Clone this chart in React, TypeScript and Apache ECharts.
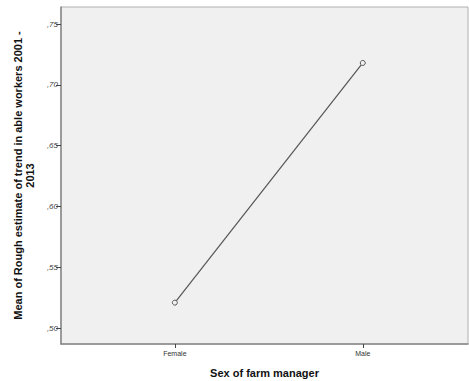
import React, { useEffect, useRef } from "react";
import * as echarts from "echarts";

const categories = ["Female", "Male"];
const means = [0.521, 0.718];
const yTicks = [0.5, 0.55, 0.6, 0.65, 0.7, 0.75];

export default function App() {
  const ref = useRef<HTMLDivElement>(null);
  useEffect(() => {
    if (!ref.current) return;
    const chart = echarts.init(ref.current, null, { renderer: "svg" });
    const font = "Liberation Sans, Arial, sans-serif";
    chart.setOption({
      animation: false,
      textStyle: { fontFamily: font },
      grid: {
        left: 61,
        top: 7,
        right: 1,
        bottom: 37,
        outerBoundsMode: "none",
        containLabel: false,
        show: true,
        backgroundColor: "#f0f0f0",
        borderColor: "#b0b0b0",
        borderWidth: 1,
      },
      xAxis: {
        type: "value",
        min: -0.606,
        max: 1.56,
        name: "Sex of farm manager",
        nameLocation: "middle",
        nameGap: 23,
        nameTextStyle: { fontWeight: "bold", fontSize: 11, color: "#111", fontFamily: font },
        axisLine: { show: true, onZero: false, lineStyle: { color: "#888", width: 1.5 } },
        axisTick: { show: true, length: 4, customValues: [0, 1], lineStyle: { color: "#444" } },
        axisLabel: {
          customValues: [0, 1],
          fontSize: 7,
          color: "#333",
          margin: 6,
          formatter: (v: number) => categories[Math.round(v)] ?? "",
        },
        splitLine: { show: false },
      },
      yAxis: {
        type: "value",
        min: 0.487,
        max: 0.764,
        name: "Mean of Rough estimate of trend in able workers 2001 -\n2013",
        nameLocation: "middle",
        nameRotate: 90,
        nameGap: 20,
        nameTextStyle: { fontWeight: "bold", fontSize: 11, color: "#111", fontFamily: font, lineHeight: 12 },
        axisLine: { show: true, onZero: false, lineStyle: { color: "#888", width: 1.5 } },
        axisTick: { show: true, length: 5, customValues: yTicks, lineStyle: { color: "#444" } },
        axisLabel: {
          customValues: yTicks,
          fontSize: 8,
          fontStyle: "italic",
          color: "#444",
          margin: 3,
          formatter: (v: number) => v.toFixed(2).replace("0.", ","),
        },
        splitLine: { show: false },
      },
      series: [
        {
          type: "line",
          data: means.map((m, i) => [i, m]),
          symbol: "circle",
          symbolSize: 5,
          showSymbol: true,
          lineStyle: { color: "#555", width: 1.2 },
          itemStyle: { color: "#f0f0f0", borderColor: "#555", borderWidth: 1 },
        },
      ],
    });
    return () => chart.dispose();
  }, []);
  return <div ref={ref} style={{ width: 469, height: 381, position: "absolute", left: 0, top: 0 }} />;
}
